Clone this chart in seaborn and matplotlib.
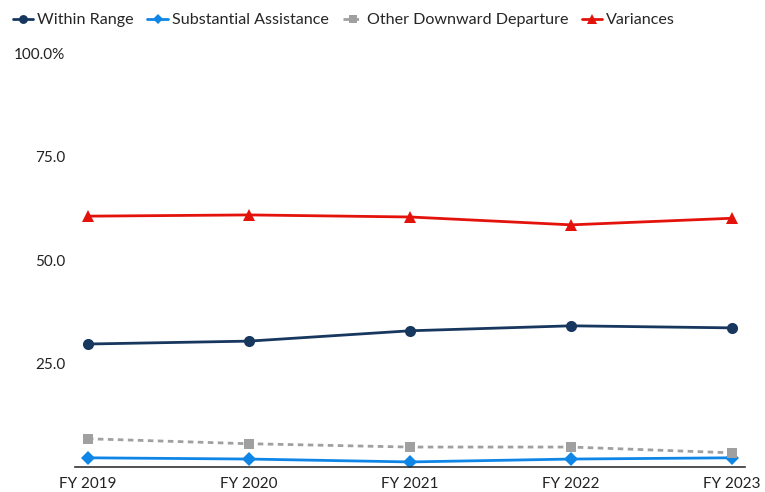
import seaborn as sns
import matplotlib.pyplot as plt
import pandas as pd

years = ["FY 2019", "FY 2020", "FY 2021", "FY 2022", "FY 2023"]
within_range = [29.7, 30.4, 32.9, 34.1, 33.6]
substantial = [2.2, 1.9, 1.2, 1.9, 2.2]
other_downward = [6.8, 5.6, 4.8, 4.8, 3.4]
variances = [60.6, 60.9, 60.4, 58.5, 60.1]

series = {
    "Within Range": within_range,
    "Substantial Assistance": substantial,
    "Other Downward Departure": other_downward,
    "Variances": variances,
}
styles = {
    "Within Range": dict(color="#17375e", marker="o", linestyle="-", ms=8),
    "Substantial Assistance": dict(color="#0f86e6", marker="D", linestyle="-", ms=7),
    "Other Downward Departure": dict(color="#a0a0a0", marker="s", linestyle=(0, (2, 1.6)), ms=7),
    "Variances": dict(color="#e3120b", marker="^", linestyle="-", ms=9),
}

sns.set_theme(style="white")
plt.rcParams['font.family'] = ['Lato', 'DejaVu Sans']

fig = plt.figure(figsize=(7.65, 4.92), dpi=100)
ax = fig.add_axes([0.098, 0.051, 0.876, 0.841])

x = list(range(len(years)))
for name, vals in series.items():
    st = styles[name]
    df = pd.DataFrame({"x": x, "y": vals})
    sns.lineplot(data=df, x="x", y="y", ax=ax, color=st["color"], marker=st["marker"],
                 linestyle=st["linestyle"], markersize=st["ms"], markeredgewidth=0,
                 linewidth=2, label=name)

ax.set_xlim(-0.08, 4.08)
ax.set_ylim(0, 100)
ax.set_xticks(x)
ax.set_xticklabels(years)
ax.set_yticks([25, 50, 75, 100])
ax.set_yticklabels(["25.0", "50.0", "75.0", "100.0%"])
ax.set_xlabel("")
ax.set_ylabel("")
ax.tick_params(axis="both", labelsize=11, colors="#222222", length=0)
ax.tick_params(axis="y", pad=7)
ax.tick_params(axis="x", pad=7)
for s in ["top", "right", "left"]:
    ax.spines[s].set_visible(False)
ax.spines["bottom"].set_color("#333333")
ax.spines["bottom"].set_linewidth(1.2)

ax.legend(loc="lower left", bbox_to_anchor=(-0.093, 1.062), ncol=4, frameon=False,
          fontsize=11.6, handlelength=1.25, handletextpad=0.25, columnspacing=0.87,
          markerscale=0.8, borderaxespad=0, borderpad=0)

fig.savefig("out.png", dpi=100)
